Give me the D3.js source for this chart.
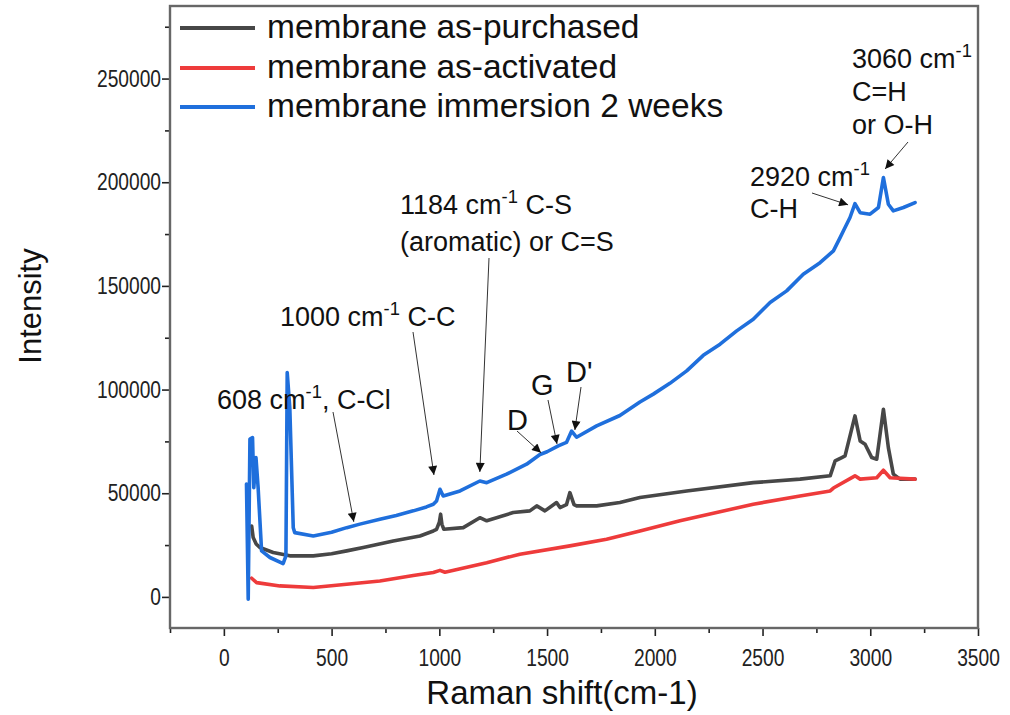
<!DOCTYPE html>
<html>
<head>
<meta charset="utf-8">
<script src="https://cdn.jsdelivr.net/npm/d3@7/dist/d3.min.js"></script>
<style>
  html, body { margin: 0; padding: 0; background: #fff; }
  svg { display: block; font-family: "Liberation Sans", Arial, sans-serif; }
</style>
</head>
<body>
<svg id="chart" width="1010" height="715"></svg>
<script>
// Raman spectra: [wavenumber (cm-1), intensity]
const purchased = [
  [129,34200],[136,28600],[150,25500],[167,23800],[229,21400],[306,19800],[415,19800],
  [500,20800],[570,22200],[647,23800],[786,27000],[910,29400],[972,31800],[987,32600],
  [1000,36000],[1006,39900],[1012,35000],[1021,32600],[1111,33400],[1188,38200],[1220,36700],
  [1343,40700],[1420,41500],[1452,43900],[1490,41500],[1544,45500],[1560,43100],[1590,44500],
  [1606,50300],[1625,44500],[1637,43900],[1730,43900],[1838,45500],[1931,47900],[2148,51100],
  [2457,55100],[2674,56800],[2814,58400],[2837,65600],[2868,67200],[2883,68000],[2929,87300],
  [2953,75200],[2976,73600],[3007,67200],[3030,66400],[3061,90500],[3084,72000],[3107,59200],
  [3138,56800],[3208,56800]
];
const activated = [
  [129,9000],[152,6900],[260,5300],[415,4500],[570,6100],[724,7700],[879,10300],[972,11800],
  [1003,12800],[1026,11900],[1220,16500],[1374,20600],[1606,24600],[1776,27800],[1931,31800],
  [2117,36700],[2457,44700],[2674,48700],[2814,51100],[2829,52500],[2929,58400],[2953,56800],
  [3030,57500],[3061,61100],[3092,57500],[3208,56800]
];
const immersion = [
  [105,54400],[113,-1100],[121,76100],[133,76800],[139,52700],[149,67200],[159,52700],
  [175,22200],[214,19000],[275,16100],[288,19800],[294,108200],[306,91300],[322,33400],
  [329,31000],[415,29400],[500,31200],[570,33400],[631,35100],[724,37500],[800,39300],
  [879,41500],[940,43400],[972,44700],[987,46300],[1003,51900],[1018,48700],[1096,51100],
  [1188,55900],[1220,55100],[1312,59200],[1405,64000],[1467,68700],[1500,70000],[1552,72800],
  [1590,74500],[1614,80000],[1637,77000],[1730,82500],[1838,87500],[1931,94000],[1993,97800],
  [2070,103000],[2148,109000],[2225,116500],[2303,121900],[2380,128300],[2457,133900],
  [2535,142000],[2612,147600],[2689,155600],[2767,161200],[2829,166900],[2860,173300],
  [2875,176500],[2906,183000],[2929,189700],[2953,185300],[2999,184600],[3038,187800],
  [3061,202300],[3084,189400],[3107,186200],[3154,187800],[3208,190200]
];

const seriesNames = ["membrane as-purchased", "membrane as-activated", "membrane immersion 2 weeks"];
const seriesColors = ["#474747", "#ee3b3b", "#1f6fdc"];
const seriesData = [purchased, activated, immersion];

const xMajorTicks = [0, 500, 1000, 1500, 2000, 2500, 3000, 3500];
const xMinorTicks = [-250, 250, 750, 1250, 1750, 2250, 2750, 3250];
const yMajorTicks = [0, 50000, 100000, 150000, 200000, 250000];
const yMinorTicks = [25000, 75000, 125000, 175000, 225000, 275000];

// Peak annotations: label lines, arrow tip in data units
const peakLabels = [
  { lines: [["608 cm", "-1", ", C-Cl"]], tip: [603, 36200] },
  { lines: [["1000 cm", "-1", " C-C"]], tip: [975, 58800] },
  { lines: [["1184 cm", "-1", " C-S"], ["(aromatic) or C=S"]], tip: [1188, 60300] },
  { lines: [["D"]], tip: [1472, 69500] },
  { lines: [["G"]], tip: [1546, 73800] },
  { lines: [["D'"]], tip: [1629, 80500] },
  { lines: [["2920 cm", "-1"], ["C-H"]], tip: [2897, 189100] },
  { lines: [["3060 cm", "-1"], ["C=H"], ["or O-H"]], tip: [3069, 206400] }
];

const svg = d3.select("#chart");
const L = 170, R = 978, T = 6, B = 628;
const x = d3.scaleLinear().domain([-250, 3500]).range([L, R]);
const y = d3.scaleLinear().domain([-15000, 285000]).range([B, T]);

const frameColor = "#676767";

// Arrowhead marker
svg.append("defs").append("marker")
  .attr("id", "arrowhead")
  .attr("viewBox", "0 0 10 10")
  .attr("refX", 10).attr("refY", 5)
  .attr("markerUnits", "userSpaceOnUse")
  .attr("markerWidth", 14).attr("markerHeight", 9)
  .attr("orient", "auto")
  .append("path").attr("d", "M0,0 L10,5 L0,10 Z").attr("fill", "#111");

// Curves
const line = d3.line().x(d => x(d[0])).y(d => y(d[1]));
const plot = svg.append("g");
seriesData.forEach((data, i) => {
  plot.append("path")
    .datum(data)
    .attr("d", line)
    .attr("fill", "none")
    .attr("stroke", seriesColors[i])
    .attr("stroke-width", 3.6)
    .attr("stroke-linejoin", "round")
    .attr("stroke-linecap", "round");
});

// Axes (narrow tick labels)
const tickFont = 24, narrow = 0.8;
svg.append("g").attr("transform", `translate(${L},0)`)
  .call(d3.axisLeft(y).tickValues(yMajorTicks).tickSize(8).tickPadding(8).tickFormat(d3.format("d")))
  .selectAll(".tick text")
  .attr("x", -9 / narrow)
  .attr("transform", `scale(${narrow},1)`);
svg.append("g").attr("transform", `translate(${L},0)`)
  .call(d3.axisLeft(y).tickValues(yMinorTicks).tickSize(5).tickFormat(""));
svg.append("g").attr("transform", `translate(0,${B})`)
  .call(d3.axisBottom(x).tickValues(xMajorTicks).tickSize(8).tickPadding(13).tickFormat(d3.format("d")))
  .selectAll(".tick text")
  .attr("transform", `scale(${narrow},1)`);
svg.append("g").attr("transform", `translate(0,${B})`)
  .call(d3.axisBottom(x).tickValues(xMinorTicks).tickSize(5).tickFormat(""));

svg.selectAll(".domain").remove();
svg.selectAll(".tick line").attr("stroke", "#222").attr("stroke-width", 1.6);
svg.selectAll(".tick text")
  .attr("font-family", "'Liberation Sans', Arial, sans-serif")
  .attr("font-size", tickFont).attr("fill", "#222");

// Frame
svg.append("rect")
  .attr("x", L).attr("y", T).attr("width", R - L).attr("height", B - T)
  .attr("fill", "none").attr("stroke", frameColor).attr("stroke-width", 2.4);

// Axis titles
svg.append("text")
  .attr("x", 562).attr("y", 704)
  .attr("text-anchor", "middle").attr("font-size", 33).attr("fill", "#111")
  .text("Raman shift(cm-1)");
svg.append("text")
  .attr("transform", "translate(41,306) rotate(-90)")
  .attr("text-anchor", "middle").attr("font-size", 31).attr("fill", "#111")
  .text("Intensity");

// Legend
const legendRows = [28, 68, 107];
seriesNames.forEach((name, i) => {
  svg.append("line")
    .attr("x1", 180).attr("x2", 255)
    .attr("y1", legendRows[i]).attr("y2", legendRows[i])
    .attr("stroke", seriesColors[i]).attr("stroke-width", 4.2);
  svg.append("text")
    .attr("x", 267).attr("y", legendRows[i] + 10)
    .attr("font-size", 33.5).attr("fill", "#111")
    .text(name);
});

// Peak annotations
const labelPlacement = [
  { x: 217, y: 409, size: 27, from: [333, 412] },
  { x: 280, y: 326, size: 27, from: [413, 332] },
  { x: 400, y: 214, size: 27, from: [489, 258], gap: 37 },
  { x: 507, y: 430, size: 29, from: [517, 431] },
  { x: 531, y: 395, size: 29, from: [548, 400] },
  { x: 566, y: 382, size: 29, from: [581, 387] },
  { x: 750, y: 186, size: 27, from: [812, 193], gap: 32 },
  { x: 852, y: 68, size: 27, from: [908, 142], gap: 33 }
];
const ann = svg.append("g").attr("fill", "#111");
peakLabels.forEach((p, i) => {
  const pl = labelPlacement[i];
  const gap = pl.gap || 32;
  p.lines.forEach((parts, j) => {
    const t = ann.append("text")
      .attr("x", pl.x).attr("y", pl.y + j * gap)
      .attr("font-size", pl.size);
    t.append("tspan").text(parts[0]);
    if (parts.length > 1) {
      t.append("tspan").attr("font-size", pl.size * 0.68).attr("dy", -pl.size * 0.42).text(parts[1]);
      if (parts.length > 2) {
        t.append("tspan").attr("dy", pl.size * 0.42).text(parts[2]);
      }
    }
  });
  ann.append("line")
    .attr("x1", pl.from[0]).attr("y1", pl.from[1])
    .attr("x2", x(p.tip[0])).attr("y2", y(p.tip[1]))
    .attr("stroke", "#333").attr("stroke-width", 1)
    .attr("marker-end", "url(#arrowhead)");
});
</script>
</body>
</html>
